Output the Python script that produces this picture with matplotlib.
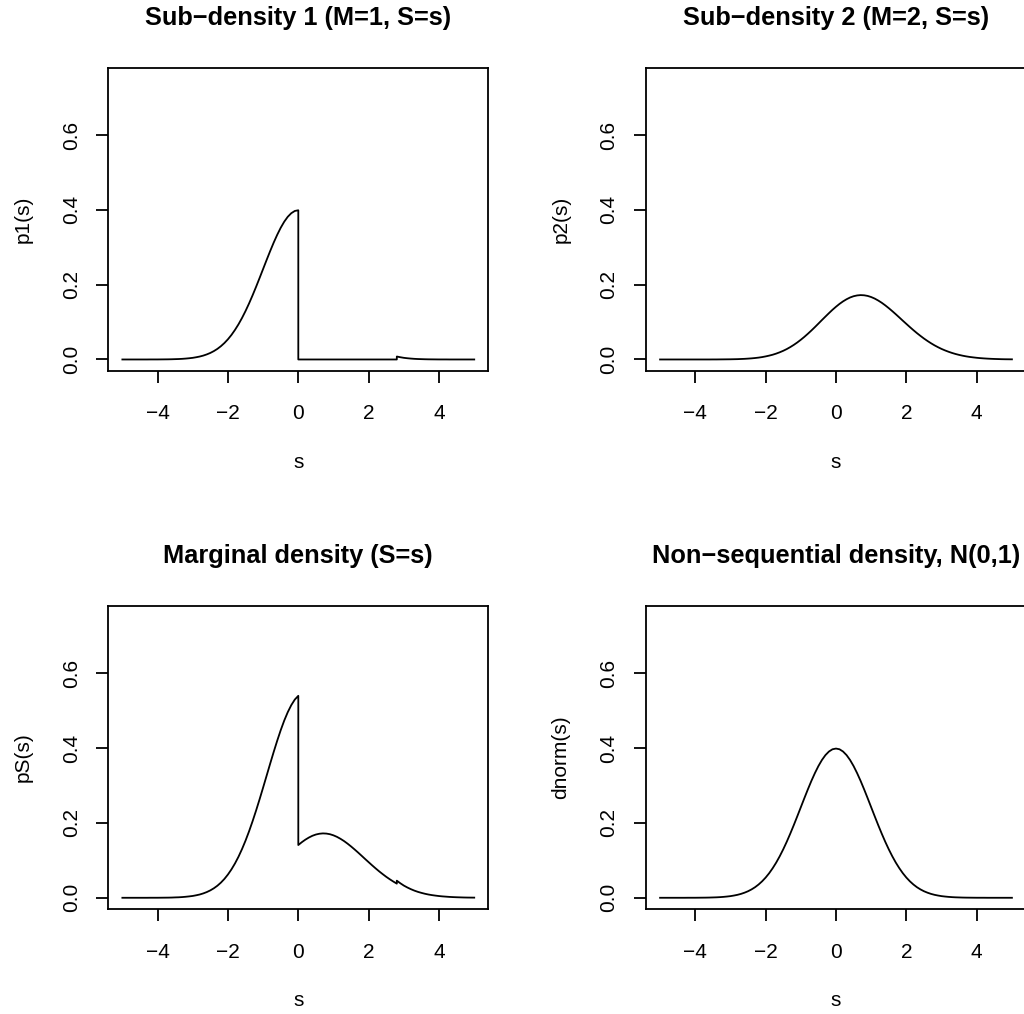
import matplotlib
matplotlib.use('Agg')
import matplotlib.pyplot as plt

plt.rcParams['font.family'] = ['Liberation Sans', 'DejaVu Sans']

# grille des s, de -5 à 5 par pas de 0.1
s = [round(-5 + 0.1 * i, 1) for i in range(101)]

# même grille avec les points de saut (s=0 et s=2.8) doublés
s_jump = s[:51] + [0.0] + s[51:79] + [2.8] + s[79:]

dnorm = [0.0000, 0.0000, 0.0000, 0.0000, 0.0000, 0.0000, 0.0000, 0.0000, 0.0001, 0.0001,
         0.0001, 0.0002, 0.0003, 0.0004, 0.0006, 0.0009, 0.0012, 0.0017, 0.0024, 0.0033,
         0.0044, 0.0060, 0.0079, 0.0104, 0.0136, 0.0175, 0.0224, 0.0283, 0.0355, 0.0440,
         0.0540, 0.0656, 0.0790, 0.0940, 0.1109, 0.1295, 0.1497, 0.1714, 0.1942, 0.2179,
         0.2420, 0.2661, 0.2897, 0.3123, 0.3332, 0.3521, 0.3683, 0.3814, 0.3910, 0.3970,
         0.3989,
         0.3970, 0.3910, 0.3814, 0.3683, 0.3521, 0.3332, 0.3123, 0.2897, 0.2661, 0.2420,
         0.2179, 0.1942, 0.1714, 0.1497, 0.1295, 0.1109, 0.0940, 0.0790, 0.0656, 0.0540,
         0.0440, 0.0355, 0.0283, 0.0224, 0.0175, 0.0136, 0.0104, 0.0079, 0.0060, 0.0044,
         0.0033, 0.0024, 0.0017, 0.0012, 0.0009, 0.0006, 0.0004, 0.0003, 0.0002, 0.0001,
         0.0001, 0.0001, 0.0000, 0.0000, 0.0000, 0.0000, 0.0000, 0.0000, 0.0000, 0.0000]

p2 = [0.0000, 0.0000, 0.0000, 0.0000, 0.0000, 0.0000, 0.0000, 0.0000, 0.0000, 0.0000,
      0.0000, 0.0000, 0.0000, 0.0000, 0.0000, 0.0001, 0.0001, 0.0002, 0.0003, 0.0004,
      0.0005, 0.0007, 0.0009, 0.0013, 0.0017, 0.0023, 0.0030, 0.0039, 0.0050, 0.0064,
      0.0082, 0.0103, 0.0127, 0.0157, 0.0192, 0.0232, 0.0278, 0.0331, 0.0390, 0.0455,
      0.0527, 0.0604, 0.0687, 0.0774, 0.0865, 0.0959, 0.1054, 0.1147, 0.1239, 0.1328,
      0.1410,
      0.1486, 0.1553, 0.1610, 0.1657, 0.1691, 0.1712, 0.1721, 0.1716, 0.1699, 0.1669,
      0.1628, 0.1576, 0.1516, 0.1447, 0.1372, 0.1292, 0.1209, 0.1123, 0.1036, 0.0951,
      0.0866, 0.0784, 0.0705, 0.0631, 0.0560, 0.0495, 0.0434, 0.0378, 0.0328, 0.0282,
      0.0242, 0.0206, 0.0174, 0.0146, 0.0122, 0.0101, 0.0083, 0.0068, 0.0056, 0.0045,
      0.0036, 0.0029, 0.0023, 0.0018, 0.0014, 0.0011, 0.0008, 0.0006, 0.0005, 0.0004]

# sous-densité 1 : sur s_jump
p1 = [0.0000, 0.0000, 0.0000, 0.0000, 0.0000, 0.0000, 0.0000, 0.0000, 0.0001, 0.0001,
      0.0001, 0.0002, 0.0003, 0.0004, 0.0006, 0.0009, 0.0012, 0.0017, 0.0024, 0.0033,
      0.0044, 0.0060, 0.0079, 0.0104, 0.0136, 0.0175, 0.0224, 0.0283, 0.0355, 0.0440,
      0.0540, 0.0656, 0.0790, 0.0940, 0.1109, 0.1295, 0.1497, 0.1714, 0.1942, 0.2179,
      0.2420, 0.2661, 0.2897, 0.3123, 0.3332, 0.3521, 0.3683, 0.3814, 0.3910, 0.3970,
      0.3989, 0.0000,
      0.0, 0.0, 0.0, 0.0, 0.0, 0.0, 0.0, 0.0, 0.0, 0.0, 0.0, 0.0, 0.0, 0.0,
      0.0, 0.0, 0.0, 0.0, 0.0, 0.0, 0.0, 0.0, 0.0, 0.0, 0.0, 0.0, 0.0, 0.0,
      0.0079,
      0.0060, 0.0044, 0.0033, 0.0024, 0.0017, 0.0012, 0.0009, 0.0006, 0.0004, 0.0003,
      0.0002, 0.0001, 0.0001, 0.0001, 0.0000, 0.0000, 0.0000, 0.0000, 0.0000, 0.0000,
      0.0000, 0.0000]

# densité marginale : sur s_jump
pS = [0.0000, 0.0000, 0.0000, 0.0000, 0.0000, 0.0000, 0.0000, 0.0000, 0.0001, 0.0001,
      0.0001, 0.0002, 0.0003, 0.0004, 0.0006, 0.0010, 0.0013, 0.0019, 0.0027, 0.0037,
      0.0049, 0.0067, 0.0088, 0.0117, 0.0153, 0.0198, 0.0254, 0.0322, 0.0405, 0.0504,
      0.0622, 0.0759, 0.0917, 0.1097, 0.1301, 0.1527, 0.1775, 0.2045, 0.2332, 0.2634,
      0.2947, 0.3265, 0.3584, 0.3897, 0.4197, 0.4480, 0.4737, 0.4961, 0.5149, 0.5298,
      0.5399, 0.1410,
      0.1486, 0.1553, 0.1610, 0.1657, 0.1691, 0.1712, 0.1721, 0.1716, 0.1699, 0.1669,
      0.1628, 0.1576, 0.1516, 0.1447, 0.1372, 0.1292, 0.1209, 0.1123, 0.1036, 0.0951,
      0.0866, 0.0784, 0.0705, 0.0631, 0.0560, 0.0495, 0.0434, 0.0378,
      0.0457,
      0.0388, 0.0326, 0.0275, 0.0230, 0.0191, 0.0158, 0.0131, 0.0107, 0.0087, 0.0071,
      0.0058, 0.0046, 0.0037, 0.0030, 0.0023, 0.0018, 0.0014, 0.0011, 0.0008, 0.0006,
      0.0005, 0.0004]

titles = ['Sub\u2212density 1 (M=1, S=s)', 'Sub\u2212density 2 (M=2, S=s)',
          'Marginal density (S=s)', 'Non\u2212sequential density, N(0,1)']
ylabels = ['p1(s)', 'p2(s)', 'pS(s)', 'dnorm(s)']
xticks = [-4, -2, 0, 2, 4]
yticks = [0.0, 0.2, 0.4, 0.6]
ytick_labels = ['0.0', '0.2', '0.4', '0.6']

W, H = 1024, 1014
fig = plt.figure(figsize=(W / 100, H / 100), dpi=100)

# boites en pixels (gauche, haut)
boxes = [(108.3, 67.7), (646.0, 67.7), (108.3, 606.0), (646.0, 606.0)]
bw, bh = 380.0, 303.0

curves = [(s_jump, p1), (s, p2), (s_jump, pS), (s, dnorm)]

lw = 1.3
for (x0, y0), (xs, ys), title, ylab in zip(boxes, curves, titles, ylabels):
    ax = fig.add_axes([x0 / W, 1 - (y0 + bh) / H, bw / W, bh / H])
    ax.plot(xs, ys, color='black', lw=lw, solid_joinstyle='round')
    ax.set_xlim(-5.4, 5.4)
    ax.set_ylim(-0.03, 0.78)
    ax.set_xticks(xticks)
    ax.set_yticks(yticks)
    ax.set_yticklabels(ytick_labels, rotation=90, va='center')
    ax.tick_params(direction='out', length=8.8, width=lw, labelsize=15, colors='black')
    ax.tick_params(axis='x', pad=15.5)
    ax.tick_params(axis='y', pad=11)
    for sp in ax.spines.values():
        sp.set_linewidth(lw)
    ax.set_title(title, fontsize=18.3, fontweight='bold', y=1.165, va='center', pad=0)
    ax.set_xlabel('s', fontsize=15)
    ax.xaxis.set_label_coords(0.5, -0.302)
    ax.xaxis.label.set_va('center')
    ax.set_ylabel(ylab, fontsize=15)
    ax.yaxis.set_label_coords(-0.2245, 0.5)
    ax.yaxis.label.set_va('center')

plt.savefig('out.png', dpi=100)
